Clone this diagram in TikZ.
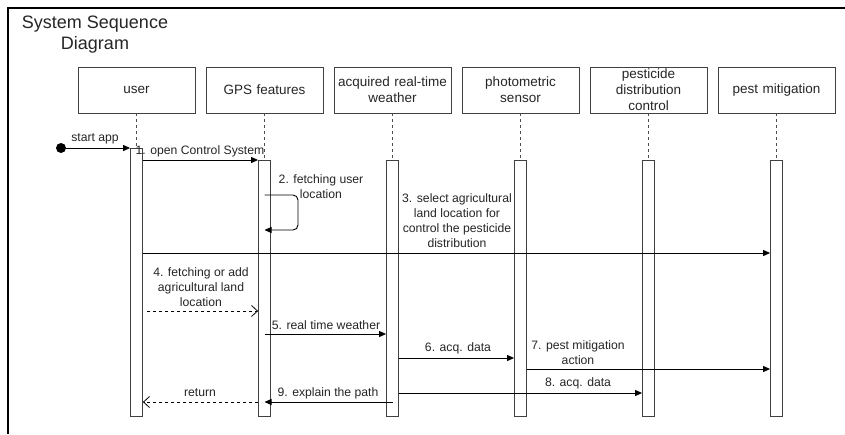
\documentclass[tikz,border=0pt]{standalone}
\usepackage{fontspec}
\setmainfont{Liberation Sans}
\usetikzlibrary{arrows.meta}
\tikzset{
    lifebox/.style={draw=black!75,line width=0.8pt,minimum width=117pt,minimum height=46pt,
        text width=113pt,align=center,inner sep=2pt,text=black!85,font=\fontsize{13.5}{16}\selectfont},
    actbar/.style={draw=black!75,fill=white,line width=0.8pt,minimum width=12pt,inner sep=0pt,anchor=north},
    lifeline/.style={dashed,black!70,line width=0.6pt},
    msg/.style={line width=0.9pt,-{Triangle[length=7pt,width=6pt]}},
    reply/.style={line width=0.8pt,dashed,-{Straight Barb[length=6pt,width=11pt]}},
    lbl/.style={align=center,inner sep=0pt,text=black!85}
}
\begin{document}
\begin{tikzpicture}[x=1pt,y=-1pt,font=\fontsize{12.2}{15}\selectfont]
                \useasboundingbox (0,0) rectangle (845,434);
                \fill[white] (0,0) rectangle (845,434);
                \draw[line width=1.2pt] (8,434) -- (8,8) -- (845,8);
                \node[lbl,font=\fontsize{18}{21}\selectfont] (title) at (95,35) {System Sequence\\Diagram};
                \foreach \n/\x/\t/\top in {u/136.5/user/148, gps/264.5/GPS features/160,
                    wx/392.5/{acquired real-time\\weather}/160, ph/520.5/{photometric\\sensor}/160,
                    pd/648.5/{pesticide\\distribution\\control}/160, pm/776.5/pest mitigation/160}{
                    \node[lifebox] (\n) at (\x,90) {\t};
                    \draw[lifeline] (\n.south) -- (\x,\top);
                    \node[actbar,minimum height={416-\top}] (\n-a) at (\x,\top) {};
                }
                \node[circle,fill,inner sep=0pt,minimum size=10pt] (start) at (61,148) {};
                \draw[msg] (start) -- (u-a.north west);
                \node[lbl] (l0) at (95,139) {start app};
                \draw[msg] (u-a.east |- 0,160) -- (gps-a.west |- 0,160);
                \node[lbl] (l1) at (200,151) {1. open Control System};
                \draw[msg,rounded corners=5pt] (gps-a.center |- 0,195) -| (298,212) |- (gps-a.center |- 0,230);
                \node[lbl] (l2) at (321,187) {2. fetching user\\location};
                \draw[msg] (u-a.east |- 0,253) -- (pm-a.west |- 0,253);
                \node[lbl] (l3) at (457,221) {3. select agricultural\\land location for\\control the pesticide\\distribution};
                \draw[reply] (147,311) -- (gps-a.west |- 0,311);
                \node[lbl] (l4) at (201,287) {4. fetching or add\\agricultural land\\location};
                \draw[msg] (gps-a.center |- 0,334) -- (wx-a.west |- 0,334);
                \node[lbl] (l5) at (326,325) {5. real time weather};
                \draw[msg] (wx-a.east |- 0,358) -- (ph-a.west |- 0,358);
                \node[lbl] (l6) at (458,348) {6. acq. data};
                \draw[msg] (ph-a.east |- 0,369) -- (pm-a.west |- 0,369);
                \node[lbl] (l7) at (578,353) {7. pest mitigation\\action};
                \draw[msg] (wx-a.east |- 0,393) -- (pd-a.west |- 0,393);
                \node[lbl] (l8) at (578,383) {8. acq. data};
                \draw[msg] (wx-a.center |- 0,402) -- (gps-a.center |- 0,402);
                \node[lbl] (l9) at (328,393) {9. explain the path};
                \draw[reply] (gps-a.west |- 0,402) -- (u-a.east |- 0,402);
                \node[lbl] (l10) at (200,393) {return};
            \end{tikzpicture}
\end{document}
